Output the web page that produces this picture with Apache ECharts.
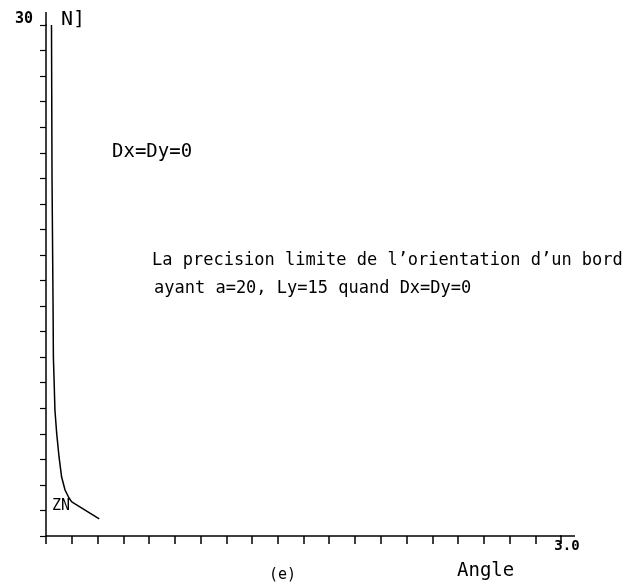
<!DOCTYPE html>
<html><head><meta charset="utf-8">
<script src="https://cdn.jsdelivr.net/npm/echarts@6/dist/echarts.min.js"></script>
<style>html,body{margin:0;padding:0;background:#fff}#c{width:641px;height:588px}</style>
</head><body><div id="c"></div>
<script>
// Data
var angleValues = [0.032, 0.035, 0.041, 0.043, 0.047, 0.052, 0.062, 0.076, 0.091, 0.111, 0.134, 0.150, 0.230, 0.310];
var nValues     = [30.0, 21.1, 13.7, 10.5, 9.2, 7.4, 6.05, 4.64, 3.46, 2.70, 2.23, 2.0, 1.5, 1.0];
var xTickLabels = {3: '3.0'};
var yTickLabels = {30: '30'};

var curve = angleValues.map(function (a, i) { return [a, nValues[i]]; });
var FONT = '"DejaVu Sans Mono", monospace';

var chart = echarts.init(document.getElementById('c'));
chart.setOption({
  animation: false,
  backgroundColor: '#fff',
  grid: { left: 46, top: 25, right: 80, bottom: 52 },
  xAxis: {
    type: 'value', min: 0, max: 3, interval: 0.15,
    splitLine: { show: false },
    axisLine: { lineStyle: { color: '#000', width: 1.5 } },
    axisTick: { length: 8, lineStyle: { color: '#000', width: 1.5 } },
    axisLabel: {
      color: '#000', fontFamily: FONT, fontSize: 14, fontWeight: 'bold', margin: 3,
      padding: [0, 0, 0, 12],
      formatter: function (v) { return xTickLabels[Math.round(v * 100) / 100] || ''; }
    }
  },
  yAxis: {
    type: 'value', min: 0, max: 30, interval: 1.5,
    splitLine: { show: false },
    axisLine: { lineStyle: { color: '#000', width: 1.5 } },
    axisTick: { length: 6, lineStyle: { color: '#000', width: 1.2 } },
    axisLabel: {
      color: '#000', fontFamily: FONT, fontSize: 15, fontWeight: 'bold', margin: 13,
      verticalAlign: 'bottom', lineHeight: 11,
      formatter: function (v) { return yTickLabels[Math.round(v * 10) / 10] || ''; }
    }
  },
  series: [{
    type: 'line', data: curve, showSymbol: false, smooth: false,
    lineStyle: { color: '#000', width: 1.5 }
  }],
  graphic: [
    { type: 'line', shape: { x1: 46, y1: 12, x2: 46, y2: 26 }, style: { stroke: '#000', lineWidth: 1.5 } },
    { type: 'line', shape: { x1: 560, y1: 536, x2: 575, y2: 536 }, style: { stroke: '#000', lineWidth: 1.5 } },
    { type: 'text', left: 61, top: 10, style: { text: 'N]', font: '20px ' + FONT, fill: '#000' } },
    { type: 'text', left: 112, top: 143, style: { text: 'Dx=Dy=0', font: '19px ' + FONT, fill: '#000' } },
    { type: 'text', left: 152, top: 252, style: { text: 'La precision limite de l\u2019orientation d\u2019un bord', font: '17px ' + FONT, fill: '#000' } },
    { type: 'text', left: 154, top: 280, style: { text: 'ayant a=20, Ly=15 quand Dx=Dy=0', font: '17px ' + FONT, fill: '#000' } },
    { type: 'text', left: 52, top: 499, style: { text: 'ZN', font: '15px ' + FONT, fill: '#000' } },
    { type: 'text', left: 269, top: 568, style: { text: '(e)', font: '15px ' + FONT, fill: '#000' } },
    { type: 'text', left: 457, top: 562, style: { text: 'Angle', font: '19px ' + FONT, fill: '#000' } }
  ]
});
</script></body></html>
